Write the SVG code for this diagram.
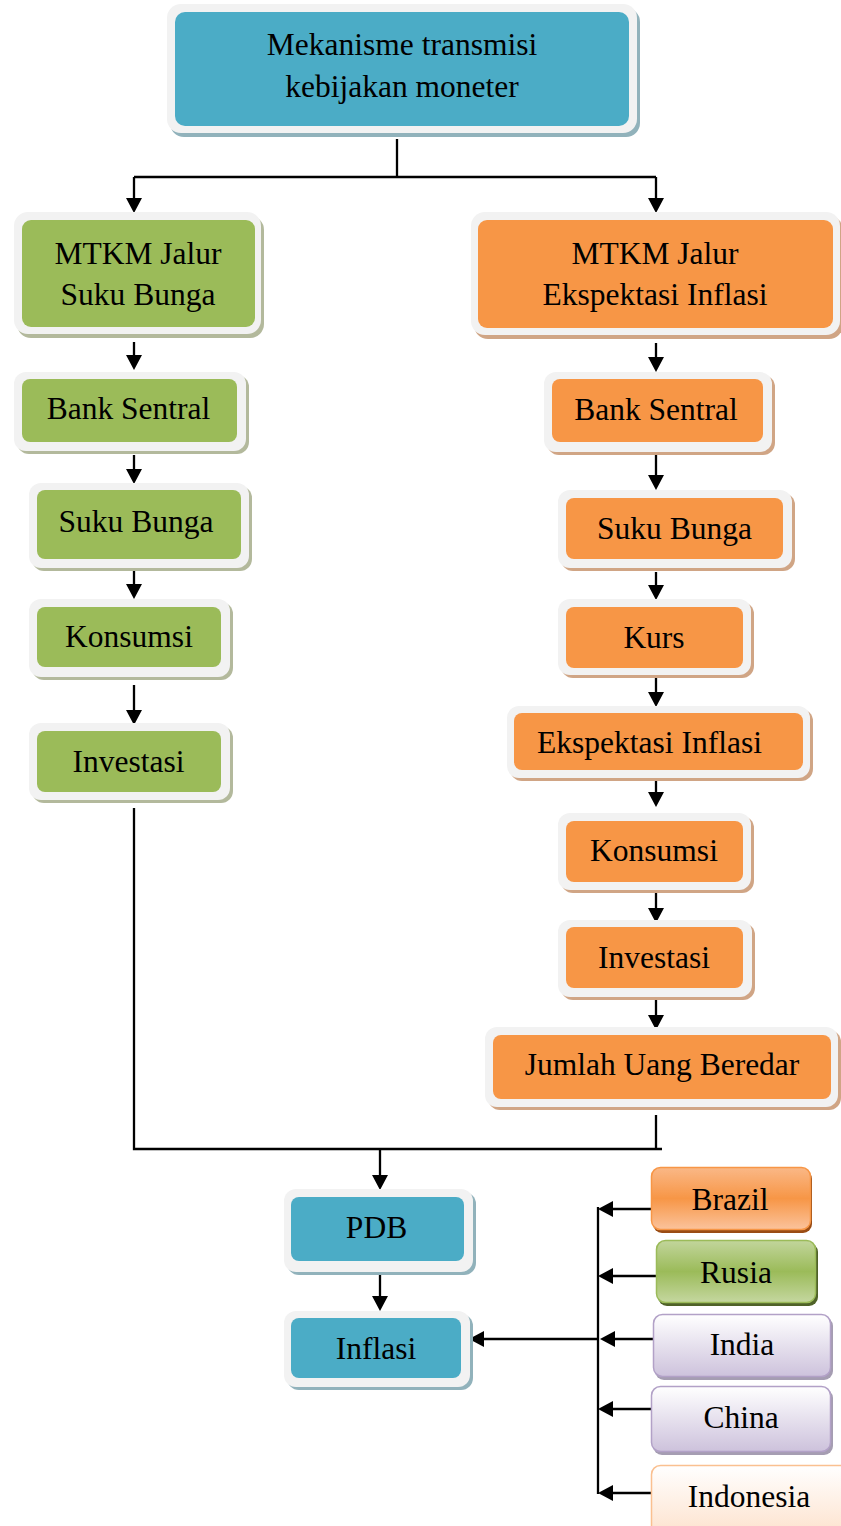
<svg xmlns="http://www.w3.org/2000/svg" xmlns:xlink="http://www.w3.org/1999/xlink" width="841" height="1526" viewBox="0 0 841 1526">
<style>
.frame{fill:#f2f2f2}
.sh-o{fill:#d0a585}
.sh-g{fill:#b3b99c}
.sh-t{fill:#91b2bb}
.in-o{fill:#f79646}
.in-g{fill:#9bbb59}
.in-t{fill:#4bacc6}
text{font-family:"Liberation Serif","Times New Roman",serif;font-size:31.5px;text-anchor:middle;fill:#000}
.ln{fill:none;stroke:#000;stroke-width:2.3}
.ah{fill:#000}
</style>
<defs>
<path id="ahd" d="M0,0 L-15,-8 L-15,8 z"/>
<linearGradient id="gBr" x1="0" y1="0" x2="0" y2="1"><stop offset="0" stop-color="#fab887"/><stop offset="0.5" stop-color="#f79646"/><stop offset="1" stop-color="#fbc39c"/></linearGradient>
<linearGradient id="gRu" x1="0" y1="0" x2="0" y2="1"><stop offset="0" stop-color="#c2d59c"/><stop offset="0.5" stop-color="#9bbb59"/><stop offset="1" stop-color="#c5d7a0"/></linearGradient>
<linearGradient id="gIn" x1="0" y1="0" x2="0" y2="1"><stop offset="0" stop-color="#ffffff"/><stop offset="1" stop-color="#cdc2dc"/></linearGradient>
<linearGradient id="gId" x1="0" y1="0" x2="0" y2="1"><stop offset="0" stop-color="#ffffff"/><stop offset="1" stop-color="#fde2cd"/></linearGradient>
</defs>

<g id="connectors">
<path class="ln" d="M397,139 V177 M134,177 H656"/>
<path class="ln" d="M134,177 V205 M656,177 V205"/>
<path class="ln" d="M134,342 V362 M134,455 V476 M134,562 V591 M134,685 V717"/>
<path class="ln" d="M656,343 V364 M656,454 V482 M656,572 V592 M656,677 V699 M656,779 V799 M656,893 V915 M656,1000 V1022"/>
<path class="ln" d="M134,808 V1149 H662 M656,1115 V1149"/>
<path class="ln" d="M380,1149 V1182 M380,1275 V1303"/>
<path class="ln" d="M598,1207 V1494"/>
<path class="ln" d="M598,1339 H477"/>
<path class="ln" d="M653,1209 H606 M656,1276 H606 M653,1339 H608 M651,1409 H606 M651,1493 H606"/>
<g class="ah">
<use xlink:href="#ahd" transform="translate(134,213) rotate(90)"/>
<use xlink:href="#ahd" transform="translate(656,213) rotate(90)"/>
<use xlink:href="#ahd" transform="translate(134,370) rotate(90)"/>
<use xlink:href="#ahd" transform="translate(134,484) rotate(90)"/>
<use xlink:href="#ahd" transform="translate(134,599) rotate(90)"/>
<use xlink:href="#ahd" transform="translate(134,725) rotate(90)"/>
<use xlink:href="#ahd" transform="translate(656,372) rotate(90)"/>
<use xlink:href="#ahd" transform="translate(656,490) rotate(90)"/>
<use xlink:href="#ahd" transform="translate(656,600) rotate(90)"/>
<use xlink:href="#ahd" transform="translate(656,707) rotate(90)"/>
<use xlink:href="#ahd" transform="translate(656,807) rotate(90)"/>
<use xlink:href="#ahd" transform="translate(656,923) rotate(90)"/>
<use xlink:href="#ahd" transform="translate(656,1030) rotate(90)"/>
<use xlink:href="#ahd" transform="translate(380,1190) rotate(90)"/>
<use xlink:href="#ahd" transform="translate(380,1311) rotate(90)"/>
<use xlink:href="#ahd" transform="translate(469,1339) rotate(180)"/>
<use xlink:href="#ahd" transform="translate(598,1209) rotate(180)"/>
<use xlink:href="#ahd" transform="translate(598,1276) rotate(180)"/>
<use xlink:href="#ahd" transform="translate(600,1339) rotate(180)"/>
<use xlink:href="#ahd" transform="translate(598,1409) rotate(180)"/>
<use xlink:href="#ahd" transform="translate(598,1493) rotate(180)"/>
</g>
</g>

<g id="top">
<rect class="sh-t" x="170" y="8" width="470" height="129" rx="14"/>
<rect class="frame" x="167" y="4" width="470" height="129" rx="14"/>
<rect class="in-t" x="175" y="12" width="454" height="114" rx="10"/>
<text x="402" y="55">Mekanisme transmisi</text>
<text x="402" y="97">kebijakan moneter</text>
</g>

<g id="g-mtkm">
<rect class="sh-g" x="17" y="216" width="247" height="122" rx="14"/>
<rect class="frame" x="14" y="212" width="247" height="122" rx="14"/>
<rect class="in-g" x="22" y="220" width="233" height="107" rx="9"/>
<text x="138" y="264">MTKM Jalur</text>
<text x="138" y="305">Suku Bunga</text>
</g>

<g id="o-mtkm">
<rect class="sh-o" x="474" y="216" width="369" height="123" rx="14"/>
<rect class="frame" x="471" y="212" width="369" height="123" rx="14"/>
<rect class="in-o" x="478" y="220" width="355" height="108" rx="9"/>
<text x="655" y="264">MTKM Jalur</text>
<text x="655" y="305">Ekspektasi Inflasi</text>
</g>

<g id="g-bank">
<rect class="sh-g" x="17" y="375" width="232" height="79" rx="12"/>
<rect class="frame" x="14" y="372" width="232" height="79" rx="12"/>
<rect class="in-g" x="22" y="379" width="215" height="63" rx="8"/>
<text x="128.5" y="419">Bank Sentral</text>
</g>

<g id="g-suku">
<rect class="sh-g" x="32" y="486" width="220" height="85" rx="12"/>
<rect class="frame" x="29" y="483" width="220" height="85" rx="12"/>
<rect class="in-g" x="37" y="490" width="204" height="69" rx="8"/>
<text x="136" y="532">Suku Bunga</text>
</g>

<g id="g-kons">
<rect class="sh-g" x="32" y="602" width="201" height="78" rx="12"/>
<rect class="frame" x="29" y="599" width="201" height="78" rx="12"/>
<rect class="in-g" x="37" y="607" width="184" height="60" rx="8"/>
<text x="129" y="647">Konsumsi</text>
</g>

<g id="g-inv">
<rect class="sh-g" x="32" y="726" width="201" height="77" rx="12"/>
<rect class="frame" x="29" y="723" width="201" height="77" rx="12"/>
<rect class="in-g" x="37" y="731" width="184" height="61" rx="8"/>
<text x="128.5" y="772">Investasi</text>
</g>

<g id="o-bank">
<rect class="sh-o" x="547" y="375" width="228" height="80" rx="12"/>
<rect class="frame" x="544" y="372" width="228" height="80" rx="12"/>
<rect class="in-o" x="552" y="379" width="211" height="63" rx="8"/>
<text x="656" y="420">Bank Sentral</text>
</g>

<g id="o-suku">
<rect class="sh-o" x="561" y="493" width="234" height="78" rx="12"/>
<rect class="frame" x="558" y="490" width="234" height="78" rx="12"/>
<rect class="in-o" x="566" y="498" width="217" height="61" rx="8"/>
<text x="674.5" y="539">Suku Bunga</text>
</g>

<g id="o-kurs">
<rect class="sh-o" x="561" y="602" width="193" height="76" rx="12"/>
<rect class="frame" x="558" y="599" width="193" height="76" rx="12"/>
<rect class="in-o" x="566" y="607" width="177" height="61" rx="8"/>
<text x="654" y="648">Kurs</text>
</g>

<g id="o-eksp">
<rect class="sh-o" x="510" y="709" width="303" height="72" rx="12"/>
<rect class="frame" x="507" y="706" width="303" height="72" rx="12"/>
<rect class="in-o" x="514" y="713" width="289" height="57" rx="8"/>
<text x="649.5" y="753">Ekspektasi Inflasi</text>
</g>

<g id="o-kons">
<rect class="sh-o" x="561" y="816" width="193" height="77" rx="12"/>
<rect class="frame" x="558" y="813" width="193" height="77" rx="12"/>
<rect class="in-o" x="566" y="821" width="177" height="61" rx="8"/>
<text x="654" y="861">Konsumsi</text>
</g>

<g id="o-inv">
<rect class="sh-o" x="561" y="923" width="194" height="77" rx="12"/>
<rect class="frame" x="558" y="920" width="194" height="77" rx="12"/>
<rect class="in-o" x="566" y="927" width="177" height="61" rx="8"/>
<text x="654" y="968">Investasi</text>
</g>

<g id="o-jub">
<rect class="sh-o" x="488" y="1030" width="353" height="80" rx="12"/>
<rect class="frame" x="485" y="1027" width="353" height="80" rx="12"/>
<rect class="in-o" x="493" y="1035" width="338" height="64" rx="8"/>
<text x="662" y="1075">Jumlah Uang Beredar</text>
</g>

<g id="pdb">
<rect class="sh-t" x="287" y="1192" width="189" height="83" rx="12"/>
<rect class="frame" x="284" y="1189" width="189" height="83" rx="12"/>
<rect class="in-t" x="291" y="1197" width="173" height="64" rx="8"/>
<text x="376.5" y="1238">PDB</text>
</g>

<g id="inflasi">
<rect class="sh-t" x="287" y="1314" width="186" height="76" rx="12"/>
<rect class="frame" x="284" y="1311" width="186" height="76" rx="12"/>
<rect class="in-t" x="291" y="1318" width="170" height="60" rx="8"/>
<text x="376" y="1359">Inflasi</text>
</g>

<g id="brazil">
<rect x="653" y="1170" width="159" height="63" rx="9" fill="#9a4c14"/>
<rect x="651.5" y="1167.5" width="159" height="62" rx="9" fill="url(#gBr)" stroke="#f79646" stroke-width="1.5"/>
<text x="730" y="1210">Brazil</text>
</g>

<g id="rusia">
<rect x="658" y="1243" width="160" height="63" rx="9" fill="#4f6228"/>
<rect x="656.5" y="1240.5" width="159" height="62" rx="9" fill="url(#gRu)" stroke="#9bbb59" stroke-width="1.5"/>
<text x="736" y="1283">Rusia</text>
</g>

<g id="india">
<rect x="655" y="1317" width="178" height="63" rx="9" fill="#a59db2"/>
<rect x="653.5" y="1314.5" width="177" height="62" rx="9" fill="url(#gIn)" stroke="#b2a1c7" stroke-width="1.5"/>
<text x="742" y="1355">India</text>
</g>

<g id="china">
<rect x="653" y="1389" width="180" height="66" rx="9" fill="#a59db2"/>
<rect x="651.5" y="1386.5" width="179" height="65" rx="9" fill="url(#gIn)" stroke="#b2a1c7" stroke-width="1.5"/>
<text x="741" y="1428">China</text>
</g>

<g id="indonesia">
<rect x="651.5" y="1465.5" width="200" height="70" rx="9" fill="url(#gId)" stroke="#fac090" stroke-width="1.5"/>
<text x="749" y="1507">Indonesia</text>
</g>
</svg>
